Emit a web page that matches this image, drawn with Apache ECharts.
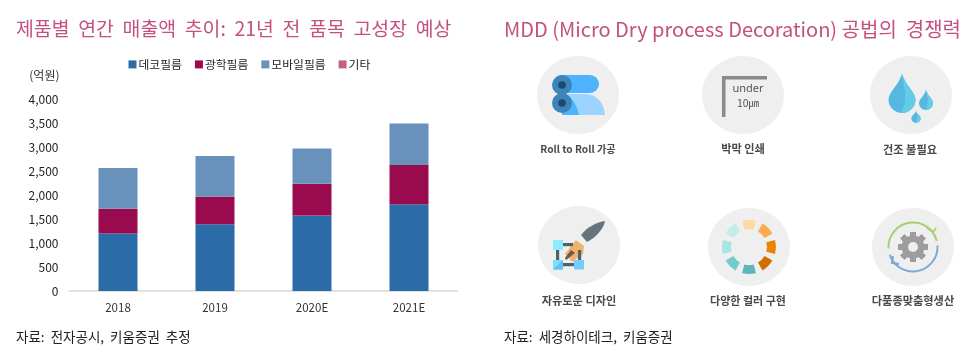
<!DOCTYPE html>
<html><head><meta charset="utf-8">
<script src="https://cdn.jsdelivr.net/npm/echarts@6/dist/echarts.min.js"></script>
<style>html,body{margin:0;padding:0;background:#fff}#c{width:969px;height:359px}</style></head>
<body><div id="c"></div>
<script>
const categories = ['2018','2019','2020E','2021E'];
const decoFilm = [1200,1390,1575,1805];
const opticalFilm = [515,575,660,820];
const mobileFilm = [847,847,735,865];
const others = [0,0,0,0];
const legendNames = ['데코필름','광학필름','모바일필름','기타'];
const seriesColors = ['#2b6ca8','#990a4e','#6891bc','#c05f85'];
const valueTicks = {min:0,max:4000,interval:500};
const FONT = '"Noto Sans CJK KR","Noto Sans",sans-serif';
const TITLE_C = '#c4507f';

const seriesValues = [decoFilm,opticalFilm,mobileFilm,others];
const g = [];
let pathId = 0;
function text(x,y,t,size,color,align,weight,extra){
  g.push({type:'text',x,y,silent:true,style:Object.assign({text:t,font:(weight||'normal')+' '+size+'px '+FONT,fill:color,align:align||'left',verticalAlign:'middle'},extra||{})});
}
function circle(cx,cy,r,fill){g.push({type:'circle',shape:{cx,cy,r},style:{fill},silent:true});}
function bg(cx,cy){g.push({type:'ellipse',shape:{cx,cy,rx:41,ry:39},style:{fill:'#efefef'},silent:true});}
function rect(x,y,w,h,fill,r){g.push({type:'rect',shape:{x,y,width:w,height:h,r:r||0},style:{fill},silent:true});}
function path(d,fill){
  const name='iconPath'+(pathId++);
  echarts.graphic.registerShape(name,echarts.graphic.extendPath(d,{}));
  g.push({type:name,shape:{},style:{fill},silent:true});
}
function drop(cx,tip,bot,r,c1,c2){
  const cy=bot-r;
  path(`M${cx} ${tip}C${cx+r*0.25} ${tip+(cy-tip)*0.45} ${cx+r} ${cy-r*0.55} ${cx+r} ${cy}A${r} ${r} 0 0 1 ${cx-r} ${cy}C${cx-r} ${cy-r*0.55} ${cx-r*0.25} ${tip+(cy-tip)*0.45} ${cx} ${tip}Z`,c1);
  path(`M${cx} ${tip}C${cx+r*0.25} ${tip+(cy-tip)*0.45} ${cx+r} ${cy-r*0.55} ${cx+r} ${cy}A${r} ${r} 0 0 1 ${cx-r*0.1} ${bot-0.1}C${cx+r*0.55} ${cy} ${cx+r*0.1} ${cy-r} ${cx} ${tip}Z`,c2);
}
// titles and sources
text(16,29,'제품별  연간  매출액  추이:  21년  전  품목  고성장  예상',19.4,TITLE_C);
text(504,29,'MDD (Micro Dry process Decoration) 공법의  경쟁력',20,TITLE_C);
text(16,337,'자료:  전자공시,  키움증권  추정',13.5,'#222');
text(504,337,'자료:  세경하이테크,  키움증권',13.5,'#222');

// icon 1: roll to roll
bg(578,95);
rect(553,75,46,18,'#4db3ff',9);
path('M560 94H585C597 94 604 103 605 115H578C572 115 566 108 560 94Z','#9dd4ff');
path('M562 94C570 94 576 102 579 115H562Z','#4db3ff');
circle(562,85,10,'#3d85b8');circle(562,103,10,'#3d85b8');
circle(562,85,3.8,'#1d4a70');circle(562,103,3.8,'#1d4a70');
// icon 2: under 10um
bg(743,95);
rect(722,76,45,3.5,'#8a8a8a');rect(722,76,3.5,41,'#8a8a8a');
const iconFont='11px "Noto Sans",sans-serif';
text(748,89,'under',11,'#555','center','normal',{font:iconFont});
text(748,103,'10㎛',10,'#555','center','normal',{font:'10.5px '+FONT});
// icon 3: drops
bg(911,95);
drop(902,74,113,13.5,'#56b7e0','#64cbe9');
drop(926,90,110,7,'#56b7e0','#64cbe9');
drop(916,111,123,4.7,'#56b7e0','#64cbe9');
// icon 4: brush
bg(579,245);
path('M605 221C604 229 595 238 587 242L581 235C587 227 597 222 605 221Z','#65757d');
path('M576 240L584 246L583 254L572 262L569 258L565 254L572 245Z','#f2b26c');
path('M571 250L575 253L566 260L565 258Z','#6a5a48');
rect(563,243,10,3.2,'#4d636d');rect(563,263,11,3.2,'#4d636d');
rect(556,250,3.2,10,'#4d636d');rect(578,250,3.2,10,'#4d636d');
rect(553,240,10,10,'#8cecff');
rect(553,260,10,9.5,'#7fdcff');path('M553 269.5L563 260V269.5Z','#5fc2f0');
rect(574,260,10,9.5,'#75ccff');
// icon 5: colour ring
bg(749,247);
const ringColors=['#fdd9a5','#fbab4a','#ec8400','#cf6f00','#5eb7ba','#72cccc','#a8e4e4','#c3ecec'];
ringColors.forEach((c,i)=>{
  const a=(-90+45*i)*Math.PI/180, h=15*Math.PI/180;
  g.push({type:'sector',shape:{cx:749,cy:247,r:27,r0:18,startAngle:a-h,endAngle:a+h,clockwise:true},style:{fill:c},silent:true});
});
// icon 6: gear with arrows
bg(913,247);
for(let i=0;i<8;i++){
  g.push({type:'rect',x:913,y:247,rotation:i*Math.PI/4,shape:{x:-3,y:-15,width:6,height:30},style:{fill:'#9d9d9d'},silent:true});
}
circle(913,247,11.5,'#9d9d9d');circle(913,247,5,'#efefef');
g.push({type:'arc',shape:{cx:913,cy:247,r:24.5,startAngle:Math.PI*0.98,endAngle:Math.PI*1.92,clockwise:true},style:{stroke:'#a5d06e',lineWidth:2,fill:'none'},silent:true});
g.push({type:'arc',shape:{cx:913,cy:247,r:24.5,startAngle:-Math.PI*0.02,endAngle:Math.PI*0.9,clockwise:true},style:{stroke:'#7ba9dc',lineWidth:2,fill:'none'},silent:true});
g.push({type:'polyline',shape:{points:[[927,228],[933,232],[936,228]]},style:{stroke:'#a5d06e',lineWidth:2,fill:'none'},silent:true});
g.push({type:'polyline',shape:{points:[[893,256],[892,263],[899,264]]},style:{stroke:'#7ba9dc',lineWidth:2,fill:'none'},silent:true});
// icon labels
[[578,149,'Roll to Roll 가공',10.2],[743,149,'박막 인쇄',11.2],[910,150,'건조 불필요',11.2],
 [579,301,'자유로운 디자인',11.2],[748,301,'다양한 컬러 구현',11],[913,301,'다품종맞춤형생산',11.2]
].forEach(a=>text(a[0],a[1],a[2],a[3],'#4a4a4a','center','700'));

const chart = echarts.init(document.getElementById('c'),null,{renderer:'canvas'});
chart.setOption({
  animation:false,
  backgroundColor:'#fff',
  textStyle:{fontFamily:FONT},
  grid:{left:69.5,right:511.5,top:99,bottom:68,containLabel:false},
  legend:{left:123.5,top:53.5,itemWidth:8,itemHeight:8,itemGap:13,icon:'rect',
    data:legendNames,selectedMode:false,
    textStyle:{fontSize:11.8,color:'#222',fontFamily:FONT,padding:[0,0,0,-3]}},
  xAxis:{type:'category',data:categories,
    axisLine:{lineStyle:{color:'#e2e2e2',width:2}},axisTick:{show:false},
    axisLabel:{fontSize:11.5,color:'#333',margin:11,fontFamily:FONT}},
  yAxis:{type:'value',min:valueTicks.min,max:valueTicks.max,interval:valueTicks.interval,
    name:'(억원)',nameLocation:'end',nameGap:18,
    nameTextStyle:{fontSize:12,color:'#333',align:'right',padding:[0,10,0,0],fontFamily:FONT},
    axisLine:{show:false},axisTick:{show:false},splitLine:{show:false},
    axisLabel:{fontSize:12,color:'#222',margin:11,fontFamily:FONT,
      formatter:v=>v.toLocaleString('en-US')}},
  series:legendNames.map((n,i)=>({name:n,type:'bar',stack:'t',barWidth:39,
    data:seriesValues[i],itemStyle:{color:seriesColors[i]},silent:true})),
  graphic:{elements:g}
});
</script></body></html>
